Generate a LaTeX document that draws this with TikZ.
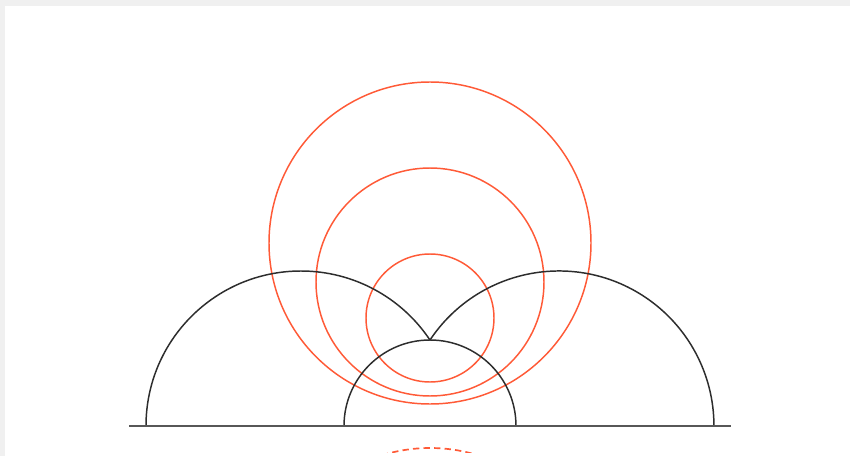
\documentclass[tikz,border=0pt]{standalone}
\usepackage{tikz}
\usetikzlibrary{calc}

\definecolor{horo}{RGB}{255,90,55}
\definecolor{geo}{RGB}{45,45,45}
\definecolor{paper}{RGB}{240,240,240}

\begin{document}
\begin{tikzpicture}[
  x=0.025cm, y=0.025cm,
  geod/.style={draw=geo, line width=1.05pt},
  bdry/.style={draw=geo!80, line width=1.3pt},
  hcirc/.style={draw=horo, line width=1.05pt},
  mirror/.style={hcirc, line width=1.2pt, dash pattern=on 4.5pt off 3pt}
]
  \useasboundingbox (0,0) rectangle (850,456);
  \fill[paper] (0,0) rectangle (850,456);
  \fill[white] (5,0) rectangle (850,450);
  \clip (5,0) rectangle (850,450);

  % the point where the three geodesics meet
  \coordinate (p) at (430,116);

  % circles about p
  \draw[hcirc] (430,138) circle[radius=64];
  \draw[hcirc] (430,174) circle[radius=114];
  \draw[hcirc] (430,213) circle[radius=161];

  % reflection of the big one below the boundary
  \begin{scope}
    \clip (380,4) rectangle (480,20);
    \draw[mirror] (430,-153) circle[radius=161];
  \end{scope}

  % geodesics through p
  \draw[geod] (146,30) arc[start angle=180, end angle=33.69, radius=155];
  \draw[geod] (p) arc[start angle=146.31, end angle=0, radius=155];
  \draw[geod] (516,30) arc[start angle=0, end angle=180, radius=86];

  % boundary line
  \draw[bdry] (129,30) -- (731,30);
\end{tikzpicture}
\end{document}
